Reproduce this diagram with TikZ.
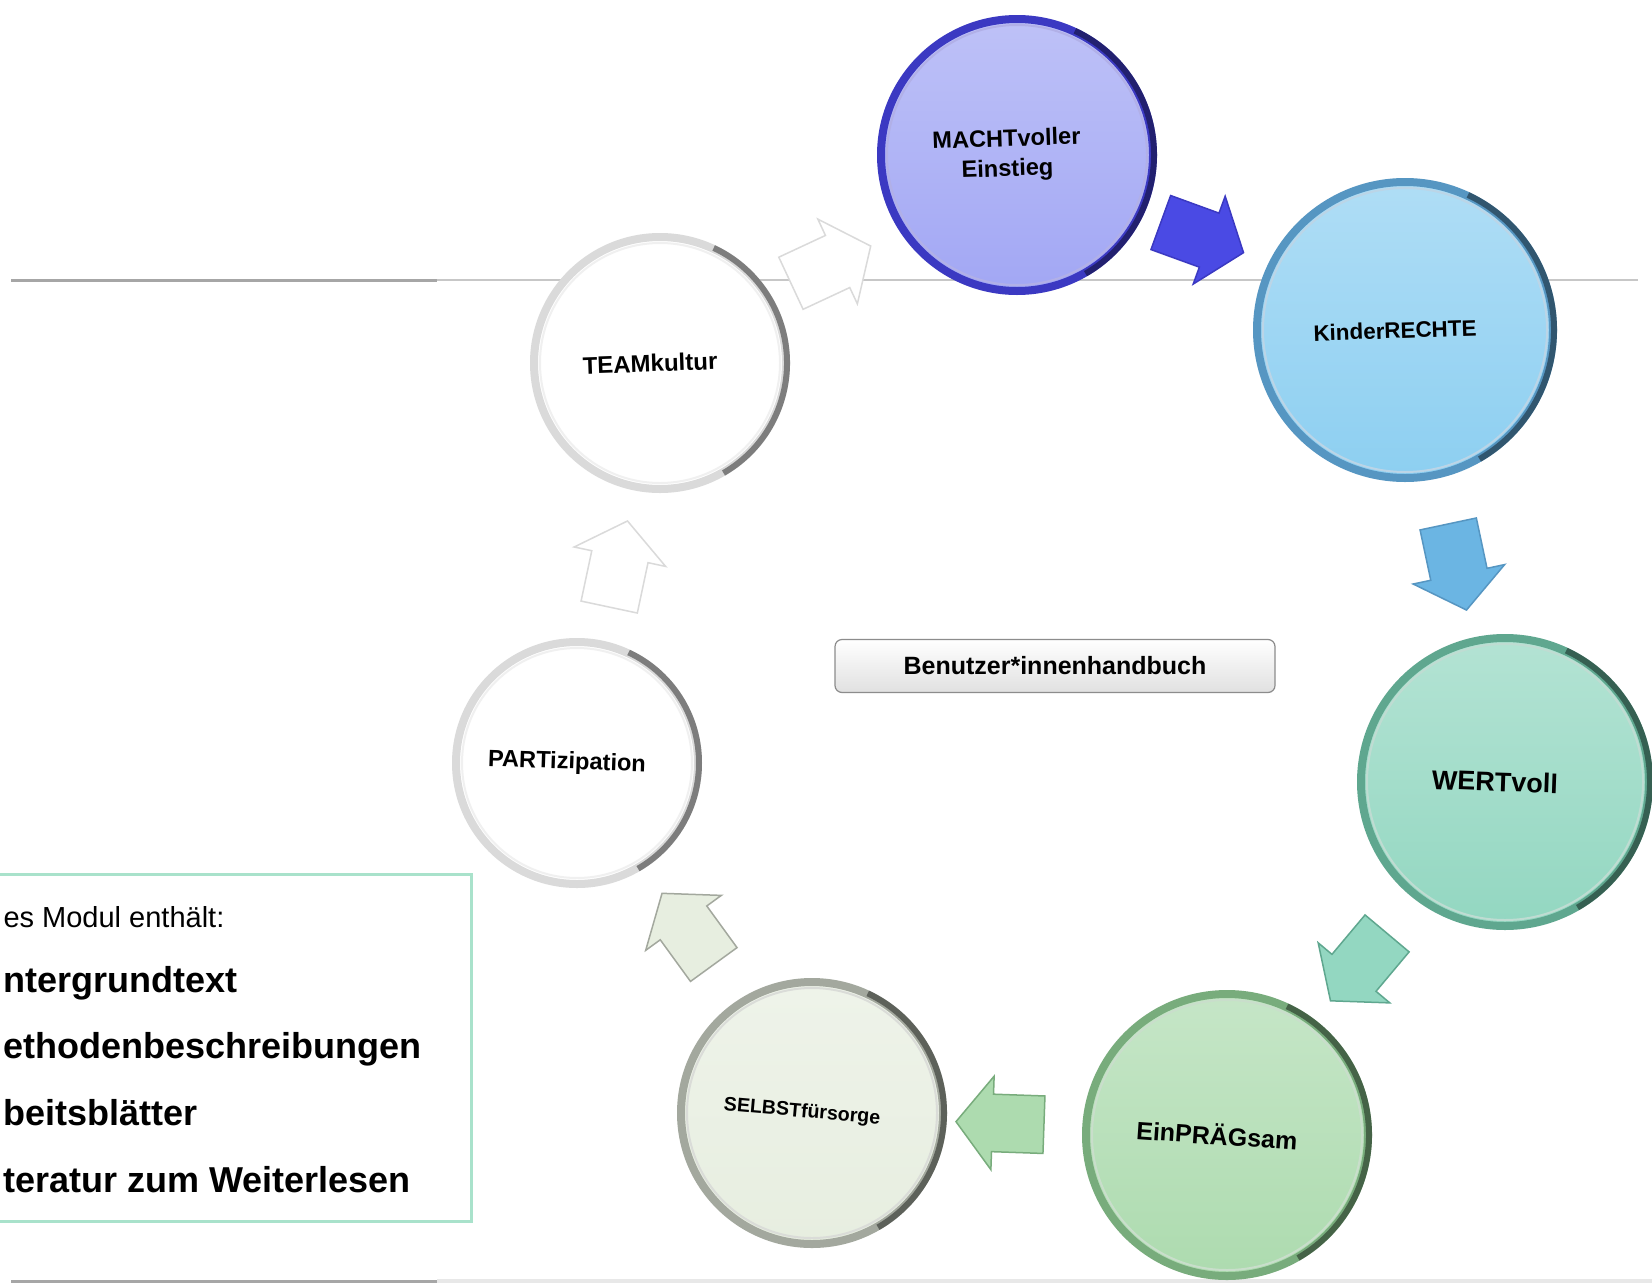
\documentclass[tikz,border=0pt]{standalone}
\usepackage{fontspec}
\setmainfont{Liberation Sans}
\usetikzlibrary{shapes.arrows, calc}

\definecolor{machtfill}{HTML}{A2A7F4}
\definecolor{machtrim}{HTML}{3B39C2}
\definecolor{machtpfeil}{HTML}{4A4AE4}
\definecolor{kinderfill}{HTML}{8DCFF1}
\definecolor{kinderrim}{HTML}{5696C2}
\definecolor{kinderpfeil}{HTML}{6BB5E3}
\definecolor{wertfill}{HTML}{93D7C1}
\definecolor{wertrim}{HTML}{5FA78F}
\definecolor{praegfill}{HTML}{ADDBAF}
\definecolor{praegrim}{HTML}{78AC7C}
\definecolor{selbstfill}{HTML}{E7EEE0}
\definecolor{selbstrim}{HTML}{A3A89E}
\definecolor{leerfill}{HTML}{FFFFFF}
\definecolor{leerrim}{HTML}{DADADA}
\definecolor{modulrand}{HTML}{A9E2CB}

\tikzset{
  kreis/.style={circle, line width=8pt, inner sep=0pt},
  kreistext/.style={align=center, text=black},
  pfeil/.style={single arrow, single arrow head extend=18pt, single arrow tip angle=104,
    inner sep=28pt, minimum height=88pt, line width=1.5pt},
  zeile/.style={anchor=base west, font=\fontsize{36}{40}\bfseries\selectfont},
}

\begin{document}
\begin{tikzpicture}[x=1pt, y=1pt]

\clip (0,0) rectangle (1652,-1285);
\fill[white] (0,0) rectangle (1652,-1285);

% Linien oben und unten
\draw[line width=3pt, color=black!35] (11,-280) -- (437,-280);
\draw[line width=2pt, color=black!22] (437,-280) -- (1638,-280);
\draw[line width=3pt, color=black!35] (11,-1281) -- (437,-1281);
\draw[line width=4pt, color=black!9] (437,-1281) -- (1652,-1281);

% Kreise
\foreach \name/\x/\y/\r/\fuell/\rand/\gr/\w/\txt in {
    macht/1017/155/140/machtfill/machtrim/23.6/2/{MACHTvoller\\Einstieg},
    kinder/1405/330/152/kinderfill/kinderrim/22.4/2/KinderRECHTE,
    wert/1505/782/148/wertfill/wertrim/27/-2/WERTvoll,
    praeg/1227/1135/145/praegfill/praegrim/25/-4/EinPRÄGsam,
    selbst/812/1113/135/selbstfill/selbstrim/19.6/-5/SELBSTfürsorge,
    part/577/763/125/leerfill/leerrim/23.6/-2/PARTizipation,
    team/660/363/130/leerfill/leerrim/24/2/TEAMkultur}
{
  \node[kreis, minimum size=2*\r-8, draw=\rand, top color=\fuell!70!white, bottom color=\fuell] (\name) at (\x,-\y) {};
  \draw[\rand!40!white, line width=2pt] (\name.center) circle[radius=\r-10];
  \draw[\rand!35!black, line width=6pt, opacity=.65] ($(\name.center)+(-60:{\r-3})$) arc[start angle=-60, end angle=65, radius=\r-3];
  \node[kreistext, rotate=\w, xshift=-10pt, font=\fontsize{\gr}{30}\bfseries\selectfont] (\name-t) at (\name.center) {\txt};
}

% Pfeile zwischen den Kreisen
\foreach \von/\nach/\t/\w/\fuell/\rand in {
    team/macht/0.45/25/white/leerrim,
    macht/kinder/0.45/-20/machtpfeil/machtrim,
    kinder/wert/0.5/-78/kinderpfeil/kinderrim,
    wert/praeg/0.5/-130/wertfill/wertrim,
    praeg/selbst/0.52/178/praegfill/praegrim,
    selbst/part/0.5/126/selbstfill/selbstrim,
    part/team/0.47/78/white/leerrim}
  \node[pfeil, rotate=\w, fill=\fuell, draw=\rand] (p-\von) at ($(\von)!\t!(\nach)$) {};

% Mitte
\node[draw=black!45, line width=1.2pt, rounded corners=7pt, top color=white, bottom color=black!12,
  minimum width=440pt, minimum height=53pt, font=\fontsize{25}{30}\bfseries\selectfont]
  (handbuch) at (1055,-666) {Benutzer*innenhandbuch};

% Kasten links unten
\node[draw=modulrand, line width=3pt, fill=white, minimum width=500pt, minimum height=347pt,
  anchor=north east] (modul) at (473,-873) {};
\node[anchor=base west, font=\fontsize{29}{30}\selectfont] (zeile0) at (0,-927) {es Modul enthält:};
\foreach \i/\y/\txt in {1/992/ntergrundtext, 2/1058/ethodenbeschreibungen,
    3/1125/beitsblätter, 4/1192/teratur zum Weiterlesen}
  \node[zeile] (zeile\i) at (0,-\y) {\txt};

\end{tikzpicture}
\end{document}
